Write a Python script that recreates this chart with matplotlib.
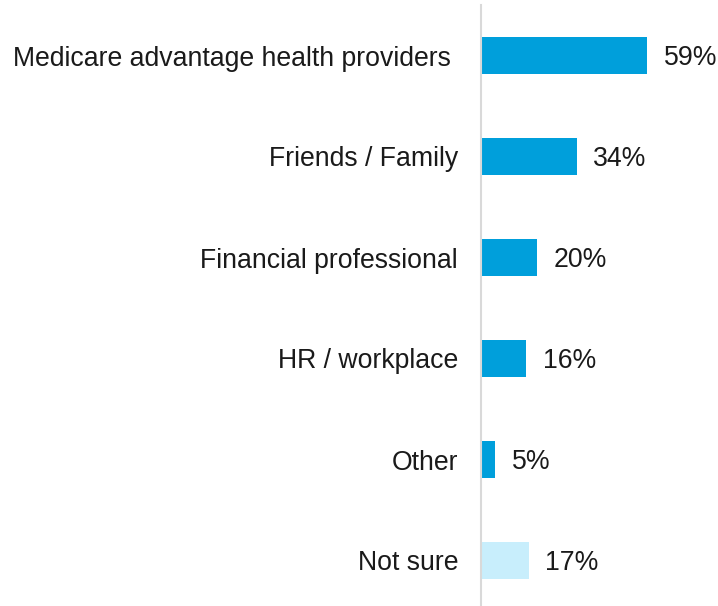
import matplotlib.pyplot as plt

categories = ["Medicare advantage health providers ", "Friends / Family", "Financial professional",
              "HR / workplace", "Other", "Not sure"]
values = [59, 34, 20, 16, 5, 17]
colors = ["#009FDB", "#009FDB", "#009FDB", "#009FDB", "#009FDB", "#C8EEFC"]

plt.rcParams['font.family'] = ['Liberation Sans', 'DejaVu Sans']

fig = plt.figure(figsize=(7.18, 6.06), dpi=100)
ax = fig.add_axes([481 / 718, -5 / 606, 1 - 481 / 718, 1.0])

ypos = list(range(len(categories)))
ax.barh(ypos, values, height=0.36, color=colors)

for y, v in zip(ypos, values):
    ax.annotate("{}%".format(v), (v, y), xytext=(12, -1.5), textcoords="offset points",
                va="center", ha="left", fontsize=19.2, color="#1a1a1a")

ax.set_yticks(ypos)
ax.set_yticklabels(categories, fontsize=19.2, color="#1a1a1a")
ax.tick_params(axis="y", length=0, pad=16.5)
ax.set_ylim(len(categories) - 0.5, -0.5)
ax.set_xlim(0, (718 - 481) / 2.81)
ax.set_xticks([])

for s in ["top", "right", "bottom"]:
    ax.spines[s].set_visible(False)
ax.spines["left"].set_color("#d9d9d9")
ax.spines["left"].set_linewidth(1.5)

plt.savefig("out.png", dpi=100)
